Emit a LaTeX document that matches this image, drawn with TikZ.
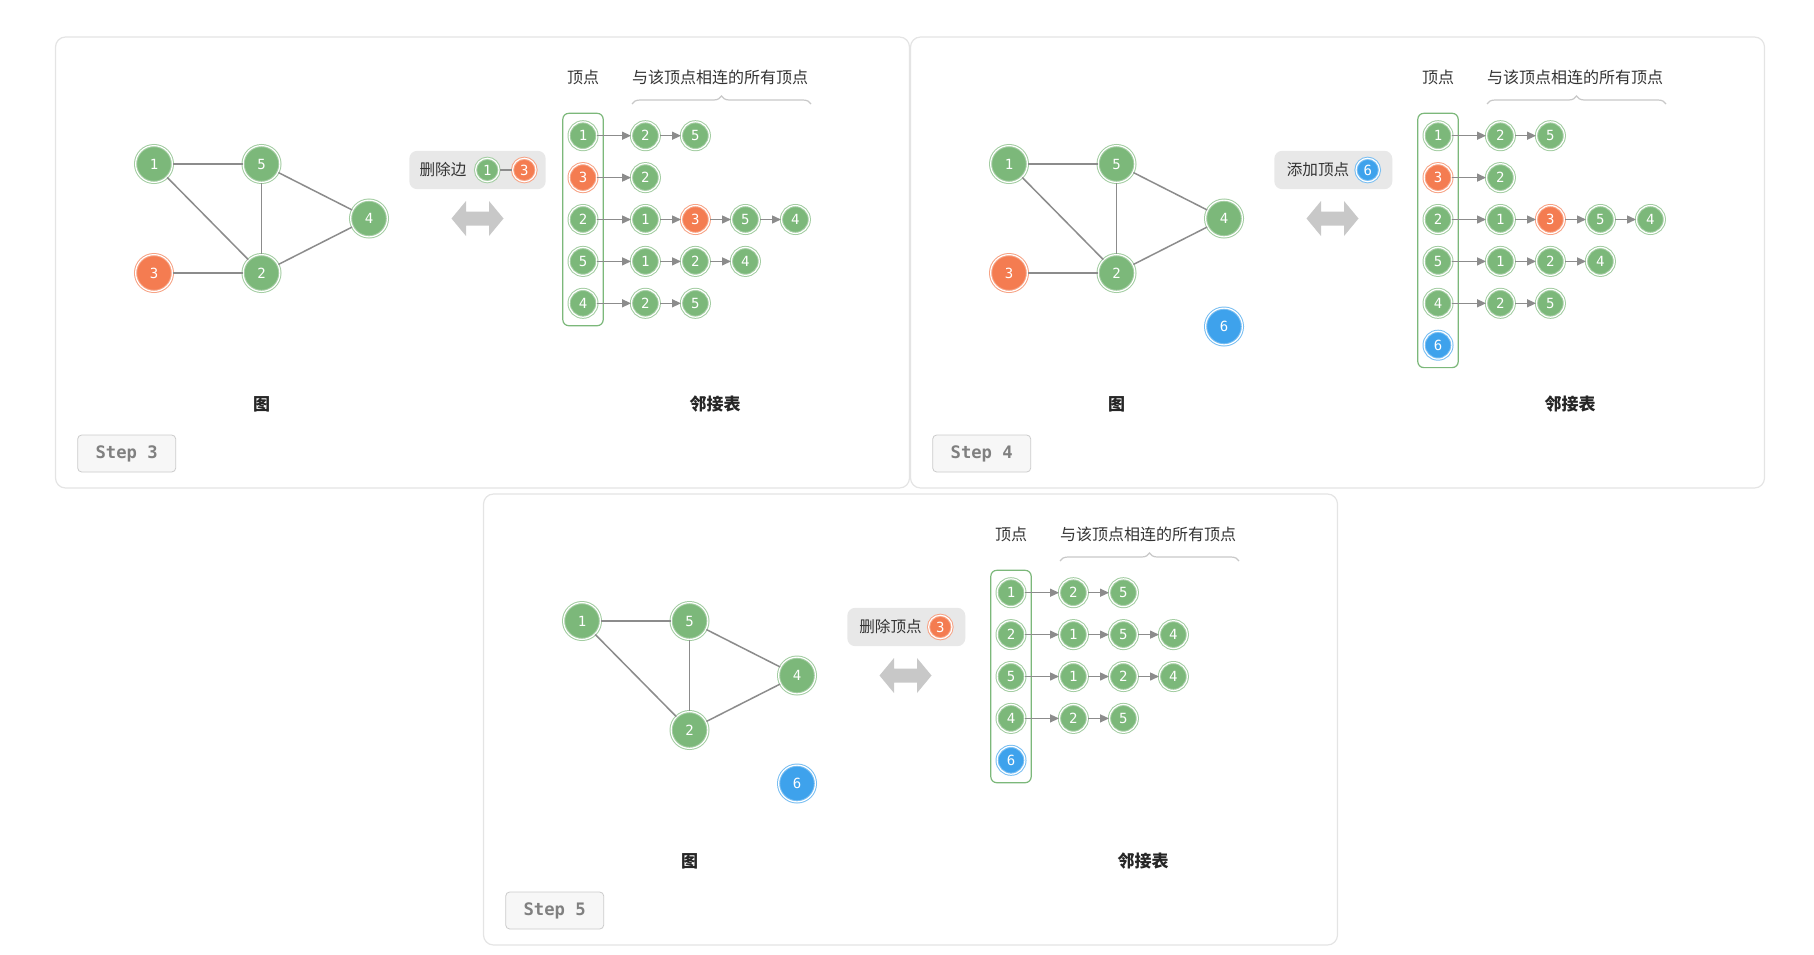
\documentclass[tikz,border=0pt]{standalone}
\usepackage{fontspec}
\setmonofont{DejaVu Sans Mono}
\newfontfamily\cjk{Noto Sans CJK SC}
\usepackage{tikz}
\usetikzlibrary{arrows.meta, positioning, fit, decorations.pathreplacing}
\definecolor{framegray}{HTML}{E4E4E4}
\definecolor{vgreen}{HTML}{7CB87A}
\definecolor{vorange}{HTML}{F47C51}
\definecolor{vblue}{HTML}{3EA2EC}
\definecolor{edgegray}{HTML}{8C8C8C}
\definecolor{arrowgray}{HTML}{C8C8C8}
\definecolor{taggray}{HTML}{E8E8E8}
\definecolor{textgray}{HTML}{333333}
\definecolor{stepline}{HTML}{CCCCCC}
\definecolor{stepfill}{HTML}{F7F7F7}
\definecolor{stepgray}{HTML}{808080}
\newcommand*{\numfont}{\ttfamily\fontsize{7}{8}\selectfont}

\begin{document}
\begin{tikzpicture}[
        x=0.5pt, y=-0.5pt, on grid, node distance=20.95pt and 25pt,
        >={Triangle[length=4.5pt,width=4pt]},
        panel/.style={draw=framegray, line width=0.6pt, rounded corners=5pt, fill=white},
        vtx/.style={circle, fill=vgreen, draw=vgreen!70, double=white, double distance=0.6pt,
            line width=0.5pt, minimum size=18.4pt, inner sep=0pt, text=white, font=\numfont},
        lst/.style={vtx, minimum size=13.9pt},
        mini/.style={vtx, minimum size=11.7pt},
        hot/.style={fill=vorange, draw=vorange!70},
        new/.style={fill=vblue, draw=vblue!70},
        link/.style={draw=edgegray, line width=0.75pt},
        ptr/.style={->, color=edgegray, line width=0.7pt},
        colbox/.style={draw=vgreen, line width=0.6pt, rounded corners=3pt, inner xsep=2.9pt, inner ysep=4pt},
        tag/.style={fill=taggray, rounded corners=4pt, minimum height=19.2pt},
        tagtext/.style={font=\cjk\fontsize{7.8}{8}\selectfont, text=textgray, inner sep=0pt},
        head/.style={font=\cjk\fontsize{8}{9}\selectfont, text=textgray},
        title/.style={font=\cjk\bfseries\fontsize{8.5}{9}\selectfont, text=black!85},
        stepbox/.style={draw=stepline, fill=stepfill, rounded corners=2pt, minimum width=49pt,
            minimum height=18.5pt, font=\ttfamily\bfseries\fontsize{8.6}{9}\selectfont, text=stepgray},
        brace/.style={decorate, decoration={brace, amplitude=4pt}, draw=arrowgray, line width=0.6pt},
        swap/.style={fill=arrowgray}
        ]
        \useasboundingbox (0,0) rectangle (1814,954);

        \begin{scope}
        \draw[panel] (55.5,37) rectangle (909.5,488);
        \node[vtx]     (ag1) at (154,164)    {1};
        \node[vtx]     (ag5) at (261.5,164)  {5};
        \node[vtx]     (ag4) at (369,218.5)  {4};
        \node[vtx,hot] (ag3) at (154,273)    {3};
        \node[vtx]     (ag2) at (261.5,273)  {2};
        \path[link] (ag1) edge (ag5) (ag1) edge (ag2) (ag5) edge (ag2)
        (ag5) edge (ag4) (ag2) edge (ag4) (ag3) edge (ag2);

        \node[tag, minimum width=68.2pt] (atag) at (477.5,170) {};
        \node[tagtext]  (atxt) at (443,170)   {删除边};
        \node[mini]     (am1)  at (487.3,170) {1};
        \node[mini,hot] (am3)  at (524.3,170) {3};
        \draw[link] (am1) -- (am3);
        \fill[swap] (451.5,218.5) -- (466,201) -- (466,211.5) -- (489,211.5) -- (489,201) -- (503.5,218.5)
        -- (489,236) -- (489,225.5) -- (466,225.5) -- (466,236) -- cycle;

        \node[head] (ah1) at (583,77.5) {顶点};
        \node[head] (ah2) at (720,77.5) {与该顶点相连的所有顶点};
        \coordinate (abl) at (632,104);
        \coordinate (abr) at (811,104);
        \draw[brace] (abl) -- (abr);

        \node[lst]     (ac1) at (583,135.7) {1};
        \node[lst,hot] (ac2) [below=of ac1] {3};
        \node[lst]     (ac3) [below=of ac2] {2};
        \node[lst]     (ac4) [below=of ac3] {5};
        \node[lst]     (ac5) [below=of ac4] {4};
        \node[colbox, fit=(ac1)(ac5)] (acol) {};
        \node[lst]     (al1a) [right=31.2pt of ac1] {2};
        \node[lst]     (al1b) [right=of al1a] {5};
        \node[lst]     (al2a) [right=31.2pt of ac2] {2};
        \node[lst]     (al3a) [right=31.2pt of ac3] {1};
        \node[lst,hot] (al3b) [right=of al3a] {3};
        \node[lst]     (al3c) [right=of al3b] {5};
        \node[lst]     (al3d) [right=of al3c] {4};
        \node[lst]     (al4a) [right=31.2pt of ac4] {1};
        \node[lst]     (al4b) [right=of al4a] {2};
        \node[lst]     (al4c) [right=of al4b] {4};
        \node[lst]     (al5a) [right=31.2pt of ac5] {2};
        \node[lst]     (al5b) [right=of al5a] {5};
        \path[ptr] (ac1) edge (al1a) (al1a) edge (al1b)
        (ac2) edge (al2a)
        (ac3) edge (al3a) (al3a) edge (al3b) (al3b) edge (al3c) (al3c) edge (al3d)
        (ac4) edge (al4a) (al4a) edge (al4b) (al4b) edge (al4c)
        (ac5) edge (al5a) (al5a) edge (al5b);

        \node[title] (at1) at (261.5,404) {图};
        \node[title] (at2) at (715,404)   {邻接表};
        \node[stepbox] (astep) at (126.7,453.5) {Step 3};
        \end{scope}

        \begin{scope}[shift={(855,0)}]
        \draw[panel] (55.5,37) rectangle (909.5,488);
        \node[vtx]     (bg1) at (154,164)    {1};
        \node[vtx]     (bg5) at (261.5,164)  {5};
        \node[vtx]     (bg4) at (369,218.5)  {4};
        \node[vtx,hot] (bg3) at (154,273)    {3};
        \node[vtx]     (bg2) at (261.5,273)  {2};
        \node[vtx,new] (bg6) at (369,326.5)  {6};
        \path[link] (bg1) edge (bg5) (bg1) edge (bg2) (bg5) edge (bg2)
        (bg5) edge (bg4) (bg2) edge (bg4) (bg3) edge (bg2);

        \node[tag, minimum width=59pt] (btag) at (478.3,170) {};
        \node[tagtext]  (btxt) at (463,170)   {添加顶点};
        \node[mini,new] (bm6)  at (512.7,170) {6};
        \fill[swap] (451.5,218.5) -- (466,201) -- (466,211.5) -- (489,211.5) -- (489,201) -- (503.5,218.5)
        -- (489,236) -- (489,225.5) -- (466,225.5) -- (466,236) -- cycle;

        \node[head] (bh1) at (583,77.5) {顶点};
        \node[head] (bh2) at (720,77.5) {与该顶点相连的所有顶点};
        \coordinate (bbl) at (632,104);
        \coordinate (bbr) at (811,104);
        \draw[brace] (bbl) -- (bbr);

        \node[lst]     (bc1) at (583,135.7) {1};
        \node[lst,hot] (bc2) [below=of bc1] {3};
        \node[lst]     (bc3) [below=of bc2] {2};
        \node[lst]     (bc4) [below=of bc3] {5};
        \node[lst]     (bc5) [below=of bc4] {4};
        \node[lst,new] (bc6) [below=of bc5] {6};
        \node[colbox, fit=(bc1)(bc6)] (bcol) {};
        \node[lst]     (bl1a) [right=31.2pt of bc1] {2};
        \node[lst]     (bl1b) [right=of bl1a] {5};
        \node[lst]     (bl2a) [right=31.2pt of bc2] {2};
        \node[lst]     (bl3a) [right=31.2pt of bc3] {1};
        \node[lst,hot] (bl3b) [right=of bl3a] {3};
        \node[lst]     (bl3c) [right=of bl3b] {5};
        \node[lst]     (bl3d) [right=of bl3c] {4};
        \node[lst]     (bl4a) [right=31.2pt of bc4] {1};
        \node[lst]     (bl4b) [right=of bl4a] {2};
        \node[lst]     (bl4c) [right=of bl4b] {4};
        \node[lst]     (bl5a) [right=31.2pt of bc5] {2};
        \node[lst]     (bl5b) [right=of bl5a] {5};
        \path[ptr] (bc1) edge (bl1a) (bl1a) edge (bl1b)
        (bc2) edge (bl2a)
        (bc3) edge (bl3a) (bl3a) edge (bl3b) (bl3b) edge (bl3c) (bl3c) edge (bl3d)
        (bc4) edge (bl4a) (bl4a) edge (bl4b) (bl4b) edge (bl4c)
        (bc5) edge (bl5a) (bl5a) edge (bl5b);

        \node[title] (bt1) at (261.5,404) {图};
        \node[title] (bt2) at (715,404)   {邻接表};
        \node[stepbox] (bstep) at (126.7,453.5) {Step 4};
        \end{scope}

        \begin{scope}[shift={(428,457)}]
        \draw[panel] (55.5,37) rectangle (909.5,488);
        \node[vtx]     (cg1) at (154,164)    {1};
        \node[vtx]     (cg5) at (261.5,164)  {5};
        \node[vtx]     (cg4) at (369,218.5)  {4};
        \node[vtx]     (cg2) at (261.5,273)  {2};
        \node[vtx,new] (cg6) at (369,326.5)  {6};
        \path[link] (cg1) edge (cg5) (cg1) edge (cg2) (cg5) edge (cg2)
        (cg5) edge (cg4) (cg2) edge (cg4);

        \node[tag, minimum width=59pt] (ctag) at (478.3,170) {};
        \node[tagtext]  (ctxt) at (462.5,170) {删除顶点};
        \node[mini,hot] (cm3)  at (512.3,170) {3};
        \fill[swap] (451.5,218.5) -- (466,201) -- (466,211.5) -- (489,211.5) -- (489,201) -- (503.5,218.5)
        -- (489,236) -- (489,225.5) -- (466,225.5) -- (466,236) -- cycle;

        \node[head] (ch1) at (583,77.5) {顶点};
        \node[head] (ch2) at (720,77.5) {与该顶点相连的所有顶点};
        \coordinate (cbl) at (632,104);
        \coordinate (cbr) at (811,104);
        \draw[brace] (cbl) -- (cbr);

        \node[lst]     (cc1) at (583,135.7) {1};
        \node[lst]     (cc2) [below=of cc1] {2};
        \node[lst]     (cc3) [below=of cc2] {5};
        \node[lst]     (cc4) [below=of cc3] {4};
        \node[lst,new] (cc5) [below=of cc4] {6};
        \node[colbox, fit=(cc1)(cc5)] (ccol) {};
        \node[lst]     (cl1a) [right=31.2pt of cc1] {2};
        \node[lst]     (cl1b) [right=of cl1a] {5};
        \node[lst]     (cl2a) [right=31.2pt of cc2] {1};
        \node[lst]     (cl2b) [right=of cl2a] {5};
        \node[lst]     (cl2c) [right=of cl2b] {4};
        \node[lst]     (cl3a) [right=31.2pt of cc3] {1};
        \node[lst]     (cl3b) [right=of cl3a] {2};
        \node[lst]     (cl3c) [right=of cl3b] {4};
        \node[lst]     (cl4a) [right=31.2pt of cc4] {2};
        \node[lst]     (cl4b) [right=of cl4a] {5};
        \path[ptr] (cc1) edge (cl1a) (cl1a) edge (cl1b)
        (cc2) edge (cl2a) (cl2a) edge (cl2b) (cl2b) edge (cl2c)
        (cc3) edge (cl3a) (cl3a) edge (cl3b) (cl3b) edge (cl3c)
        (cc4) edge (cl4a) (cl4a) edge (cl4b);

        \node[title] (ct1) at (261.5,404) {图};
        \node[title] (ct2) at (715,404)   {邻接表};
        \node[stepbox] (cstep) at (126.7,453.5) {Step 5};
        \end{scope}
\end{tikzpicture}
\end{document}
